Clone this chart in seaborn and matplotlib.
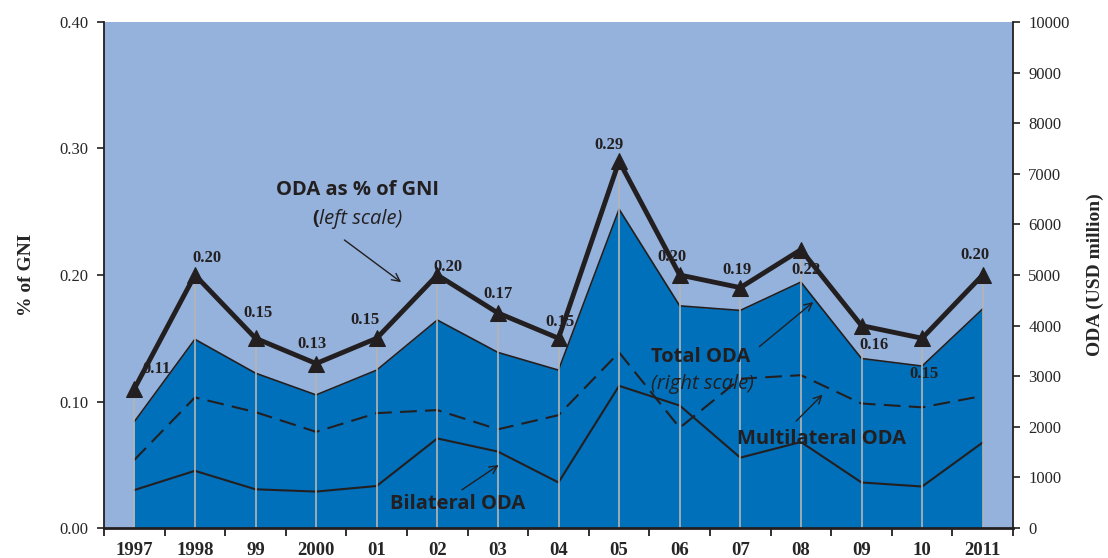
import numpy as np
import matplotlib
matplotlib.use("Agg")
import matplotlib.pyplot as plt
import seaborn as sns

# -----------------------------
# DATA
# -----------------------------
years = ["1997", "1998", "99", "2000", "01", "02", "03", "04", "05",
         "06", "07", "08", "09", "10", "2011"]
gni_pct = [0.11, 0.20, 0.15, 0.13, 0.15, 0.20, 0.17, 0.15, 0.29,
           0.20, 0.19, 0.22, 0.16, 0.15, 0.20]
total_oda = [2100, 3730, 3060, 2630, 3120, 4110, 3470, 3120, 6300,
             4390, 4300, 4860, 3350, 3200, 4330]
bilateral_oda = [750, 1130, 765, 720, 830, 1770, 1510, 900, 2810,
                 2420, 1390, 1700, 900, 820, 1690]
multilateral_oda = [1345, 2580, 2290, 1900, 2270, 2330, 1950, 2230, 3470,
                    1980, 2950, 3020, 2460, 2385, 2610]

# label offsets (pixels) for the % of GNI values
label_offsets = [(22, 20), (12, 17), (2, 25), (-4, 20), (-12, 18), (11, 8),
                 (0, 19), (2, 16), (-10, 16), (-8, 18), (-3, 18), (5, -20),
                 (13, -19), (2, -36), (-8, 20)]

# -----------------------------
# STYLE
# -----------------------------
sns.set_theme(style="ticks")
plt.rcParams["font.family"] = ["Liberation Serif", "DejaVu Serif"]
plt.rcParams["axes.linewidth"] = 1.3

bg_blue = "#94B2DB"
fill_blue = "#0070BA"
ink = "#231F20"
sans = ["Open Sans", "DejaVu Sans"]

x = np.arange(len(years))

fig = plt.figure(figsize=(11.08, 5.58), dpi=100)
ax = fig.add_axes([104 / 1108, 1 - 528 / 558, (1013 - 104) / 1108, (528 - 22) / 558])
ax2 = ax.twinx()

# left axis on top, right axis carries the background
ax.set_zorder(ax2.get_zorder() + 1)
ax.patch.set_visible(False)
ax2.patch.set_visible(True)
ax2.set_facecolor(bg_blue)

# -----------------------------
# RIGHT SCALE: ODA (USD million)
# -----------------------------
ax2.fill_between(x, total_oda, color=fill_blue, lw=0)
sns.lineplot(x=x, y=total_oda, ax=ax2, color=ink, lw=1.2)
sns.lineplot(x=x, y=multilateral_oda, ax=ax2, color=ink, lw=1.5, linestyle=(0, (8, 4)))
sns.lineplot(x=x, y=bilateral_oda, ax=ax2, color=ink, lw=1.5)
ax2.set_ylim(0, 10000)
ax2.set_yticks(np.arange(0, 10001, 1000))
ax2.set_ylabel("ODA (USD million)", fontsize=14, fontweight="bold", labelpad=12)

# -----------------------------
# LEFT SCALE: ODA as % of GNI
# -----------------------------
ax.vlines(x, 0, gni_pct, color="#B5B5B5", lw=1.2, zorder=1)
sns.lineplot(x=x, y=gni_pct, ax=ax, color=ink, lw=3.5, marker="^", markersize=11,
             markeredgecolor=ink, markerfacecolor=ink, zorder=3)
for xi, v, (dx, dy) in zip(x, gni_pct, label_offsets):
    ax.annotate(f"{v:.2f}", (xi, v), xytext=(dx, dy), textcoords="offset pixels",
                ha="center", va="center", fontsize=12, fontweight="bold", color=ink)

ax.set_ylim(0, 0.40)
ax.set_yticks(np.arange(0, 0.41, 0.10))
ax.set_yticklabels([f"{t:.2f}" for t in np.arange(0, 0.41, 0.10)])
ax.set_ylabel("% of GNI", fontsize=14, fontweight="bold", labelpad=18)

ax.set_xlim(-0.5, len(years) - 0.5)
ax.set_xticks(np.arange(-0.5, len(years), 1))
ax.set_xticklabels([])
ax.set_xticks(x, minor=True)
ax.set_xticklabels(years, minor=True, fontsize=13.5, fontweight="bold")
ax.tick_params(axis="x", which="major", length=6, width=1.3, color=ink)
ax.tick_params(axis="x", which="minor", length=0, pad=10)
ax.tick_params(axis="y", length=5, width=1.2, labelsize=12, color=ink, pad=6)
ax2.tick_params(axis="y", length=5, width=1.2, labelsize=12, color=ink, pad=6)

for a in (ax, ax2):
    a.spines["top"].set_visible(False)
    for s in a.spines.values():
        s.set_color(ink)
ax.spines["right"].set_visible(False)
ax2.spines["left"].set_visible(False)
ax.spines["bottom"].set_linewidth(2)
ax2.spines["bottom"].set_visible(False)

# -----------------------------
# ANNOTATIONS
# -----------------------------
ax.text(3.68, 0.267, "ODA as % of GNI", ha="center", va="center",
        fontsize=14.5, fontweight="bold", family=sans, color=ink)
ax.text(3.04, 0.244, "(", ha="right", va="center",
        fontsize=14.5, fontweight="bold", family=sans, color=ink)
ax.text(3.04, 0.244, "left scale)", ha="left", va="center",
        fontsize=14.5, style="italic", family=sans, color=ink)
ax.annotate("", xy=(4.44, 0.193), xytext=(3.43, 0.229),
            arrowprops=dict(arrowstyle="->", color=ink, lw=1, mutation_scale=14))

ax.text(9.34, 0.135, "Total ODA", ha="center", va="center",
        fontsize=14.5, fontweight="bold", family=sans, color=ink)
ax.text(9.37, 0.114, "(right scale)", ha="center", va="center",
        fontsize=14.5, style="italic", family=sans, color=ink)
ax.annotate("", xy=(11.24, 0.180), xytext=(10.28, 0.142),
            arrowprops=dict(arrowstyle="->", color=ink, lw=1, mutation_scale=14))

ax.text(11.34, 0.070, "Multilateral ODA", ha="center", va="center",
        fontsize=14.5, fontweight="bold", family=sans, color=ink)
ax.annotate("", xy=(11.39, 0.107), xytext=(10.89, 0.083),
            arrowprops=dict(arrowstyle="->", color=ink, lw=1, mutation_scale=14))

ax.text(5.33, 0.019, "Bilateral ODA", ha="center", va="center",
        fontsize=14.5, fontweight="bold", family=sans, color=ink)
ax.annotate("", xy=(6.05, 0.051), xytext=(5.37, 0.029),
            arrowprops=dict(arrowstyle="->", color=ink, lw=1, mutation_scale=14))

fig.savefig("out.png", dpi=100)
plt.close(fig)
